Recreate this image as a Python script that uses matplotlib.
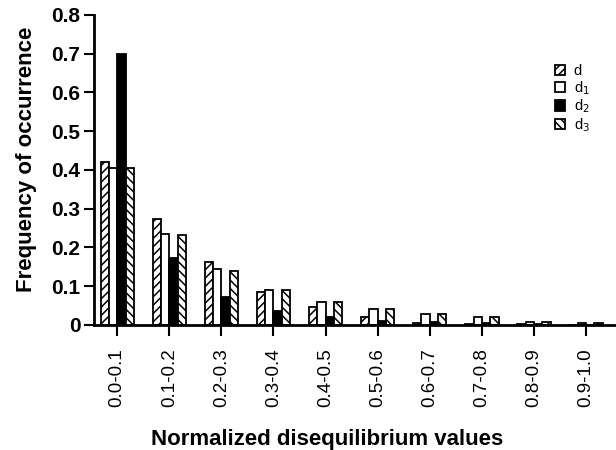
import matplotlib
matplotlib.use('Agg')
import matplotlib.pyplot as plt
import numpy as np

# data
bins = ['0.0-0.1', '0.1-0.2', '0.2-0.3', '0.3-0.4', '0.4-0.5',
        '0.5-0.6', '0.6-0.7', '0.7-0.8', '0.8-0.9', '0.9-1.0']
d = [0.420, 0.272, 0.162, 0.086, 0.045, 0.021, 0.006, 0.003, 0.002, 0.001]
d1 = [0.405, 0.235, 0.144, 0.091, 0.058, 0.041, 0.029, 0.020, 0.008, 0.004]
d2 = [0.700, 0.173, 0.072, 0.036, 0.020, 0.009, 0.008, 0.004, 0.002, 0.001]
d3 = [0.405, 0.232, 0.139, 0.091, 0.058, 0.041, 0.029, 0.020, 0.008, 0.004]
y_ticks = [0, 0.1, 0.2, 0.3, 0.4, 0.5, 0.6, 0.7, 0.8]
y_labels = ['0', '0.1', '0.2', '0.3', '0.4', '0.5', '0.6', '0.7', '0.8']

# settings
plt.rcParams['font.family'] = ['Liberation Sans', 'DejaVu Sans']
plt.rcParams['hatch.linewidth'] = 1.1
label_font_size = 16
ytick_font_size = 15
xtick_font_size = 13.5
legend_font_size = 10.5
bar_w = 0.16
lw = 1.3

fig = plt.figure(figsize=(6.16, 4.5), dpi=100)
ax = fig.add_axes([0.153, 0.278, 0.845, 0.689])

x = np.arange(len(bins))
series = [(d, 'white', '////', 'd'),
          (d1, 'white', '', 'd$_1$'),
          (d2, 'black', '', 'd$_2$'),
          (d3, 'white', '\\\\\\\\', 'd$_3$')]
for i, (vals, fc, hatch, lab) in enumerate(series):
    ax.bar(x + (i - 1.5) * bar_w, vals, bar_w, color=fc, edgecolor='black',
           hatch=hatch, linewidth=lw, label=lab, zorder=2)

ax.set_xlim(-0.44, 9.55)
ax.set_ylim(0, 0.8)
ax.set_xticks(x)
ax.set_xticklabels(bins, rotation=90, fontsize=xtick_font_size)
ax.set_yticks(y_ticks)
ax.set_yticklabels(y_labels, fontsize=ytick_font_size, fontweight='bold')

for s in ['top', 'right']:
    ax.spines[s].set_visible(False)
for s in ['left', 'bottom']:
    ax.spines[s].set_linewidth(2)
    ax.spines[s].set_zorder(3)
ax.tick_params(axis='y', direction='out', length=7, width=1.5, pad=3)
ax.tick_params(axis='x', direction='out', length=8, width=1.5, pad=9)

ax.set_xlabel('Normalized disequilibrium values', fontsize=label_font_size,
              fontweight='bold')
ax.xaxis.set_label_coords(0.447, -0.335)
ax.set_ylabel('Frequency of occurrence', fontsize=label_font_size,
              fontweight='bold')
ax.yaxis.set_label_coords(-0.11, 0.535)

ax.legend(loc='upper left', bbox_to_anchor=(0.885, 0.84), frameon=False,
          fontsize=legend_font_size, handlelength=0.7, handleheight=0.7,
          handletextpad=0.6, labelspacing=0.05, borderaxespad=0, borderpad=0)

plt.savefig('out.png', dpi=100)
